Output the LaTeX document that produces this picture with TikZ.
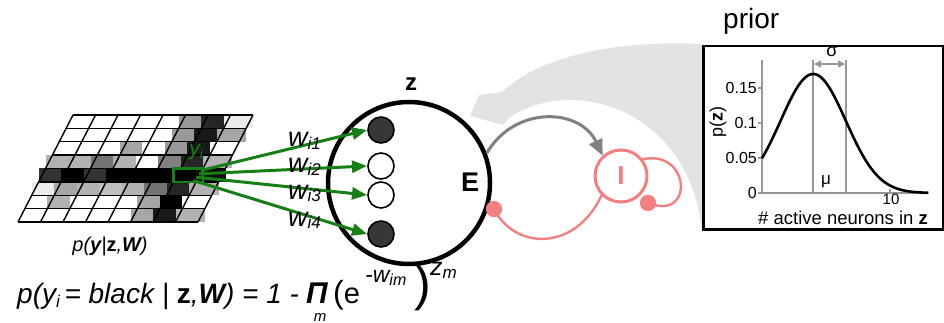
\documentclass[tikz,border=0pt]{standalone}
\usepackage{fontspec}
\setmainfont{Liberation Sans}
\usetikzlibrary{arrows.meta}
\definecolor{grn}{RGB}{22,128,22}
\definecolor{salmon}{RGB}{242,128,128}
\definecolor{arrgray}{RGB}{128,128,128}
\definecolor{bandgray}{RGB}{227,227,227}
\definecolor{ndark}{RGB}{55,55,55}
\definecolor{axgray}{RGB}{150,150,150}
\newcommand\fs[1]{\fontsize{#1}{#1}\selectfont}
\begin{document}
\begin{tikzpicture}[x=1pt,y=-1pt,
  neuron/.style={circle, draw, line width=1.6pt, minimum size=26pt, inner sep=0pt},
  garrow/.style={grn, line width=3pt, -{Triangle[length=15pt,width=12pt]}},
  txt/.style={inner sep=0pt},
  saldot/.style={circle, fill=salmon, minimum size=16pt, inner sep=0pt},
  pinkln/.style={salmon, line width=2.4pt},
  vline/.style={axgray, line width=1.6pt},
]
\useasboundingbox (0,0) rectangle (944,323);

% big grey feedback arrow
\fill[bandgray] (702,44) .. controls (620,40) and (540,55) .. (502,92)
  -- (479,95) -- (470,116) -- (503,125) -- (510,117)
  .. controls (575,75) and (690,110) .. (702,232) -- cycle;

% prior box
\node[draw, line width=2.5pt, fill=white, minimum width=240pt, minimum height=183pt, inner sep=0pt, anchor=north west] (box) at (702,45) {};
\node[txt, anchor=base west] (prior) at (723,29) {\fs{28}prior};

% plot
\draw[axgray, line width=1.3pt] (762,60) -- (762,193) -- (928,193);
\foreach \v/\lab in {0/0,0.05/0.05,0.1/0.1,0.15/0.15}{
  \draw[axgray, line width=1.3pt] (758,{193-700*\v}) -- (762,{193-700*\v});
  \node[txt, anchor=east] at (757,{193-700*\v}) {\fs{16}\lab};
}
\draw[axgray, line width=1.3pt] (890,193) -- (890,189);
\node[txt] (ten) at (891,199) {\fs{15}10};
\draw[vline] (813.2,193) -- (813.2,60);
\draw[vline] (845.8,193) -- (845.8,60);
\draw[axgray, line width=1.6pt, {Triangle[length=7pt,width=7pt]}-{Triangle[length=7pt,width=7pt]}] (814,64) -- (845,64);
\node[txt] (sig) at (832,52) {\fs{18}σ};
\node[txt] (mu) at (826,182) {\fs{17}μ};
\draw[line width=2.6pt, line join=round] plot[domain=0:13, samples=90, smooth] ({762+12.8*\x},{193-119*exp(-((\x-4)^2)/13)});
\node[txt, rotate=90] (pz) at (718,122) {\fs{18}p(\textbf{z})};
\node[txt] (xlab) at (843,218) {\fs{18.5}\# active neurons in \textbf{z}};

% pixel grid
\begin{scope}[shift={(18,222)}, x={(22.5pt,0pt)}, y={(6.875pt,13.375pt)}]
  \foreach \row [count=\r] in {
    {0,0,0,0,0,40,85,8},
    {0,0,0,0,0,40,90,35},
    {0,0,0,35,0,40,90,0},
    {30,30,55,30,0,50,85,30},
    {80,100,80,100,100,100,100,95},
    {8,35,30,25,30,55,85,30},
    {0,30,0,0,0,35,100,0},
    {0,0,0,0,0,35,90,30}}{
    \foreach \v [count=\c] in \row {
      \fill[black!\v] (\c-1,8-\r) rectangle (\c,9-\r);
    }
  }
  \foreach \i in {0,...,8}{
    \draw[line width=1.4pt] (\i,0) -- (\i,8);
    \draw[line width=1.4pt] (0,\i) -- (8,\i);
  }
  \draw[grn, line width=2.6pt] (6,3) rectangle (7,4);
  \coordinate (s1) at (6.95,3.85);
  \coordinate (s2) at (6.95,3.6);
  \coordinate (s3) at (6.9,3.35);
  \coordinate (s4) at (6.85,3.1);
\end{scope}
\node[txt, text=grn] (yi) at (196,152) {\fs{21}\itshape y\raisebox{-3pt}{\fs{13}i}};
\node[txt] (pyzw) at (110,246) {\fs{20}\itshape p(\textbf{y}|\textbf{\upshape z},\textbf{W})};

% E population
\node[draw, circle, line width=4.5pt, minimum size=162pt, inner sep=0pt] (E) at (409,183) {};
\node[txt] (zlab) at (411,84) {\fs{24}\bfseries z};
\node[txt] (Elab) at (470,182) {\fs{27}\bfseries E};

\draw[garrow] (s1) -- (367,130);
\draw[garrow] (s2) -- (367,166);
\draw[garrow] (s3) -- (367,195);
\draw[garrow] (s4) -- (367,234);

\node[neuron, fill=ndark] (n1) at (381,130) {};
\node[neuron, fill=white] (n2) at (381,166) {};
\node[neuron, fill=white] (n3) at (381,195) {};
\node[neuron, fill=ndark] (n4) at (381,234) {};

\node[txt, anchor=base west] (w1) at (288,147) {\fs{27}\itshape w\raisebox{-2pt}{\fs{17}i1}};
\node[txt, anchor=base west] (w2) at (288,173) {\fs{27}\itshape w\raisebox{-2pt}{\fs{17}i2}};
\node[txt, anchor=base west] (w3) at (288,199) {\fs{27}\itshape w\raisebox{-2pt}{\fs{17}i3}};
\node[txt, anchor=base west] (w4) at (288,226) {\fs{27}\itshape w\raisebox{-2pt}{\fs{17}i4}};

% inhibitory population
\node[saldot] (dI) at (648,203) {};
\node[saldot] (dE) at (494,209) {};
\draw[pinkln] (640,160) .. controls (690,146) and (696,222) .. (dI.center);
\node[draw=salmon, circle, line width=3pt, minimum size=52pt, inner sep=0pt, fill=white] (I) at (621,176) {};
\node[txt, text=salmon] (Ilab) at (621,176) {\fs{26}\bfseries I};
\node[saldot] at (dI) {};
\draw[pinkln] (I.225) .. controls (575,252) and (515,250) .. (dE.center);
\node[saldot] at (dE) {};
\draw[arrgray, line width=3pt, -{Triangle[length=16pt,width=14pt]}] (E.21) .. controls (515,105) and (580,108) .. (I.132);

% formula
\node[txt, anchor=base west] (eqA) at (17,303) {\fs{28}\itshape p(y\raisebox{-4pt}{\fs{17}i}\,= black | {\bfseries\upshape z},{\bfseries W}) = 1 -};
\node[txt, anchor=base west] (eqPi) at (306,303) {\fs{30}\bfseries\itshape Π};
\node[txt, anchor=base] (eqm) at (320,321.5) {\fs{15}\itshape m};
\node[txt, anchor=base west] (eqB) at (333,303) {{\fs{32}(}{\fs{29}e}};
\node[txt, anchor=base west] (eqsup) at (365,282) {\fs{23}\itshape -w\raisebox{-3pt}{\fs{16}im}};
\node[txt, anchor=base west] (eqpar) at (414,300) {\fs{50})};
\node[txt, anchor=base west] (eqz) at (430,275) {\fs{25}\itshape z\raisebox{-3pt}{\fs{17}m}};
\end{tikzpicture}
\end{document}
